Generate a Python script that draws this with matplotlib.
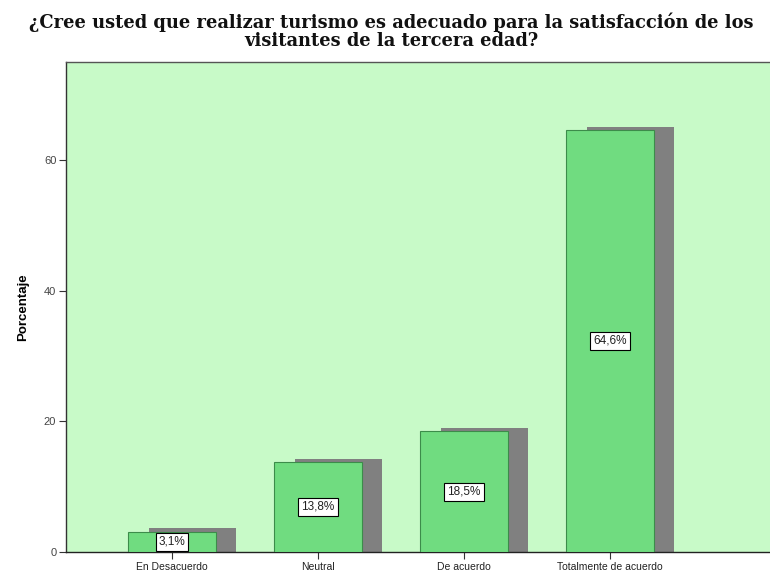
import matplotlib
matplotlib.use("Agg")
import matplotlib.pyplot as plt
import numpy as np

categories = ["En Desacuerdo", "Neutral", "De acuerdo", "Totalmente de acuerdo"]
values = [3.1, 13.8, 18.5, 64.6]
labels = ["3,1%", "13,8%", "18,5%", "64,6%"]
yticks = [0, 20, 40, 60]
title = "¿Cree usted que realizar turismo es adecuado para la satisfacción de los\nvisitantes de la tercera edad?"

fig = plt.figure(figsize=(7.7, 5.77), dpi=100)
ax = fig.add_axes([66/770, 25/577, 704/770, 490/577])
ax.set_facecolor("#C8FAC8")

x = np.arange(len(categories))
w = 0.60
dx, dy = 0.14, 0.5
ax.bar(x + dx, np.array(values) + dy, width=w, color="#808080", edgecolor="none", zorder=2)
ax.bar(x, values, width=w, color="#70DC80", edgecolor="#3C8C4A", linewidth=0.8, zorder=3)

for xi, v, lab in zip(x, values, labels):
    ax.text(xi, v / 2, lab, ha="center", va="center", fontsize=8.5, family="Liberation Sans",
            color="#222222", zorder=5,
            bbox=dict(boxstyle="square,pad=0.25", fc="white", ec="black", lw=0.8))

ax.set_xlim(-0.726, 4.096)
ax.set_ylim(0, 75)
ax.set_xticks(x)
ax.set_xticklabels(categories, fontsize=7.5, family="Liberation Sans", color="#222222")
ax.set_yticks(yticks)
ax.set_yticklabels([str(t) for t in yticks], fontsize=8, family="Liberation Sans", color="#444444")
ax.tick_params(axis="both", direction="out", length=5, width=0.8, colors="#333333")
ax.tick_params(axis="x", labelcolor="#222222", pad=2)
ax.tick_params(axis="y", labelcolor="#444444", pad=2)

ax.spines["right"].set_visible(False)
ax.spines["top"].set_color("#555555")
ax.spines["left"].set_color("#333333")
ax.spines["bottom"].set_color("#222222")
for s in ["top", "left", "bottom"]:
    ax.spines[s].set_linewidth(1.0)

ax.set_ylabel("Porcentaje", fontsize=9.5, fontweight="bold", family="Liberation Sans", labelpad=11)
fig.text(0.508, 1 - 13/577, title, ha="center", va="top", fontsize=12.9, fontweight="bold",
         family="DejaVu Serif", color="#111111", linespacing=0.95)

fig.savefig("out.png", dpi=100)
